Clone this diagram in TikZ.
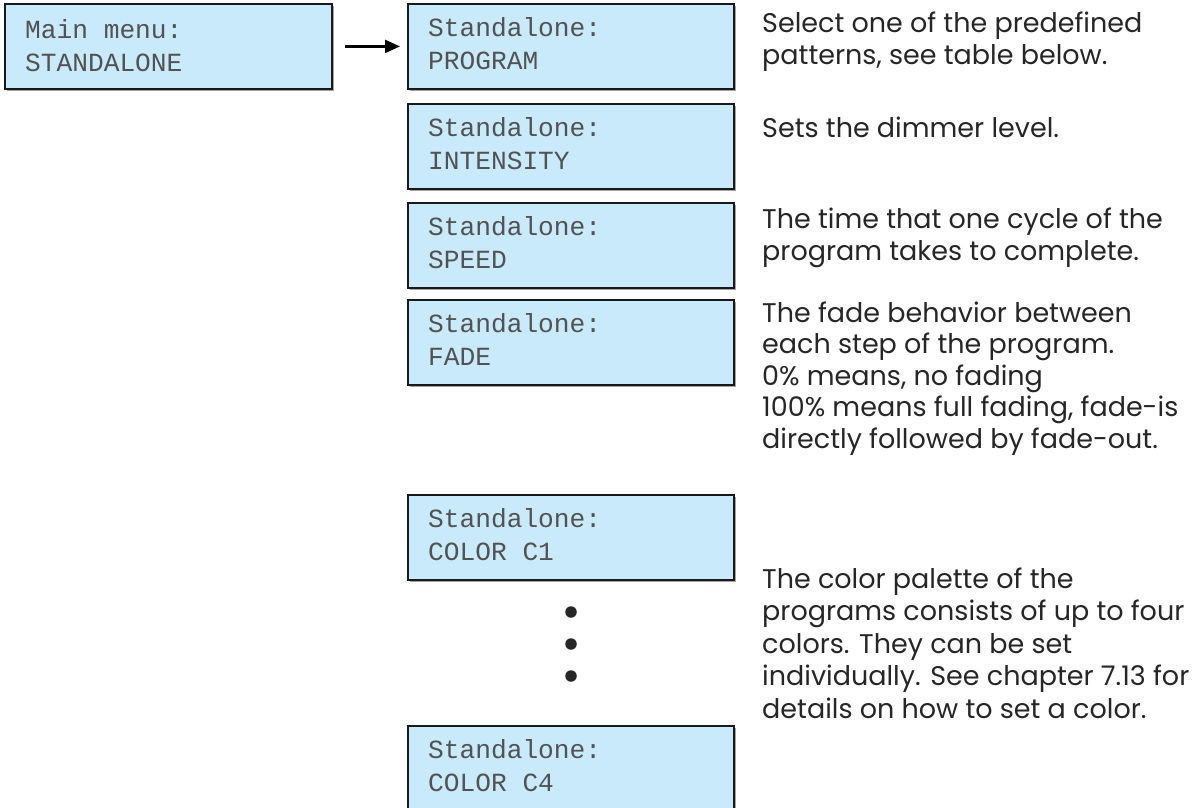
\documentclass[tikz,border=0pt]{standalone}
\usepackage{fontspec}
\setmainfont{Poppins}
\newfontfamily\lcdfont{Liberation Mono}
\usetikzlibrary{arrows.meta,shadows}
\definecolor{lcdblue}{HTML}{C8EAFA}
\begin{document}
\begin{tikzpicture}[x=1pt,y=-1pt,
  lcd/.style={draw=black!90, line width=1.8pt, fill=lcdblue, anchor=north west,
    minimum width=326pt, minimum height=85pt, inner sep=0pt,
    drop shadow={shadow xshift=1.8pt, shadow yshift=-1.8pt, fill=black!45, opacity=0.8}},
  lcdtxt/.style={anchor=base west, inner sep=0pt, align=left, text=black!68,
    font=\lcdfont\fontsize{26.2}{33}\selectfont},
  desc/.style={anchor=base west, inner sep=0pt, align=left, text=black!85,
    font=\fontsize{27}{31.5}\selectfont},
  dot/.style={circle, fill=black!85, inner sep=0pt, minimum size=11.5pt}]
\useasboundingbox (0,0) rectangle (1194,807);
\begin{scope}
\clip (0,0) rectangle (1194,807);
\node[lcd, minimum width=327pt] (main) at (4,3) {};
\node[lcd] (prog) at (407,3) {};
\node[lcd] (inten) at (407,103) {};
\node[lcd] (speed) at (407,202) {};
\node[lcd] (fade) at (407,299) {};
\node[lcd] (c1) at (407,494) {};
\node[lcd] (c4) at (407,725) {};
\end{scope}
% base anchor of a two-line node = baseline of its last line
\node[lcdtxt] (mainT) at ([shift={(21,68)}]main.north west) {Main menu:\\STANDALONE};
\node[lcdtxt] (progT) at ([shift={(21,66)}]prog.north west) {Standalone:\\PROGRAM};
\node[lcdtxt] (intenT) at ([shift={(21,66)}]inten.north west) {Standalone:\\INTENSITY};
\node[lcdtxt] (speedT) at ([shift={(21,66)}]speed.north west) {Standalone:\\SPEED};
\node[lcdtxt] (fadeT) at ([shift={(21,66)}]fade.north west) {Standalone:\\FADE};
\node[lcdtxt] (c1T) at ([shift={(21,66)}]c1.north west) {Standalone:\\COLOR C1};
\node[lcdtxt] (c4T) at ([shift={(21,66)}]c4.north west) {Standalone:\\COLOR C4};
\draw[line width=2.2pt, -{Triangle[length=15pt,width=13pt]}, shorten <=12pt, shorten >=7pt] (main.east) -- (prog.west);
\node[dot] (d1) at (571,612) {};
\node[dot] (d2) at (571,644) {};
\node[dot] (d3) at (571,676) {};
\node[desc] (progD) at (762,64) {Select one of the predefined\\patterns, see table below.};
\node[desc] (intenD) at (762,137) {Sets the dimmer level.};
\node[desc] (speedD) at (762,260) {The time that one cycle of the\\program takes to complete.};
\node[desc] (fadeD) at (762,448) {The fade behavior between\\each step of the program.\\0\% means, no fading\\100\% means full fading, fade-is\\directly followed by fade-out.};
\node[desc, font=\fontsize{27}{32.5}\selectfont] (colD) at (762,718) {The color palette of the\\programs consists of up to four\\colors. They can be set\\individually. See chapter 7.13 for\\details on how to set a color.};
\end{tikzpicture}
\end{document}
